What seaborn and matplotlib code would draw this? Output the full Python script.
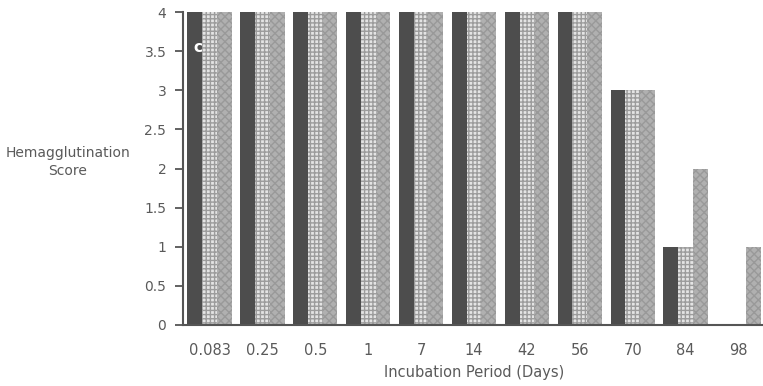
import pandas as pd
import matplotlib
matplotlib.use("Agg")
from matplotlib import pyplot as plt
import seaborn as sns

days = ["0.083", "0.25", "0.5", "1", "7", "14", "42", "56", "70", "84", "98"]
series_a = [4, 4, 4, 4, 4, 4, 4, 4, 3, 1, 0]
series_b = [4, 4, 4, 4, 4, 4, 4, 4, 3, 1, 0]
series_c = [4, 4, 4, 4, 4, 4, 4, 4, 3, 2, 1]
series_names = ["A", "B", "C"]

df = pd.DataFrame({
    "day": days * 3,
    "score": series_a + series_b + series_c,
    "series": [s for s in series_names for _ in days],
})

sns.set_style("white")
plt.rcParams["font.family"] = ["DejaVu Sans"]
plt.rcParams["hatch.linewidth"] = 1.0

txt = "#5a5a5a"
fig = plt.figure(figsize=(7.63, 3.86), dpi=100)
ax = fig.add_axes([183 / 763, 1 - 325 / 386, 582 / 763, (325 - 12) / 386])

sns.barplot(data=df, x="day", y="score", hue="series", order=days,
            palette=["#4d4d4d", "#e4e4e4", "#b0b0b0"], saturation=1,
            width=0.84, gap=0, linewidth=0, legend=False, ax=ax)

# dotted middle bars and stippled right bars
for bar in ax.containers[1]:
    bar.set_hatch("++++")
    bar.set_edgecolor("#9c9c9c")
    bar.set_linewidth(0)
for bar in ax.containers[2]:
    bar.set_hatch("xxxx")
    bar.set_edgecolor("#999999")
    bar.set_linewidth(0)

ax.set_xlim(-0.5, len(days) - 0.5)
ax.set_ylim(0, 4)
ax.set_yticks([i * 0.5 for i in range(9)])
ax.set_yticklabels(["0", "0.5", "1", "1.5", "2", "2.5", "3", "3.5", "4"])
ax.set_xticks(range(len(days)))
ax.set_xticklabels(days)
ax.set_xticks([i + 0.5 for i in range(len(days) - 1)], minor=True)
ax.tick_params(axis="x", which="major", length=0, pad=13, labelsize=10.5, labelcolor=txt)
ax.tick_params(axis="x", which="minor", direction="inout", length=9, width=1.3, color="#555555")
ax.tick_params(axis="y", direction="out", length=6, width=1.3, color="#555555", pad=6,
               labelsize=10, labelcolor=txt, left=True)

for side in ["top", "right"]:
    ax.spines[side].set_visible(False)
for side in ["left", "bottom"]:
    ax.spines[side].set_color("#555555")
    ax.spines[side].set_linewidth(1.5)

ax.set_xlabel("Incubation Period (Days)", fontsize=10.5, color=txt, labelpad=5)
ax.set_ylabel("")
fig.text(68 / 763, 1 - 162 / 386, "Hemagglutination\nScore", ha="center", va="center",
         fontsize=10, color=txt, linespacing=1.3)
ax.text(-0.22, 3.55, "c", color="white", fontsize=11, ha="center", va="center", fontweight="bold")

fig.savefig("out.png", dpi=100)
